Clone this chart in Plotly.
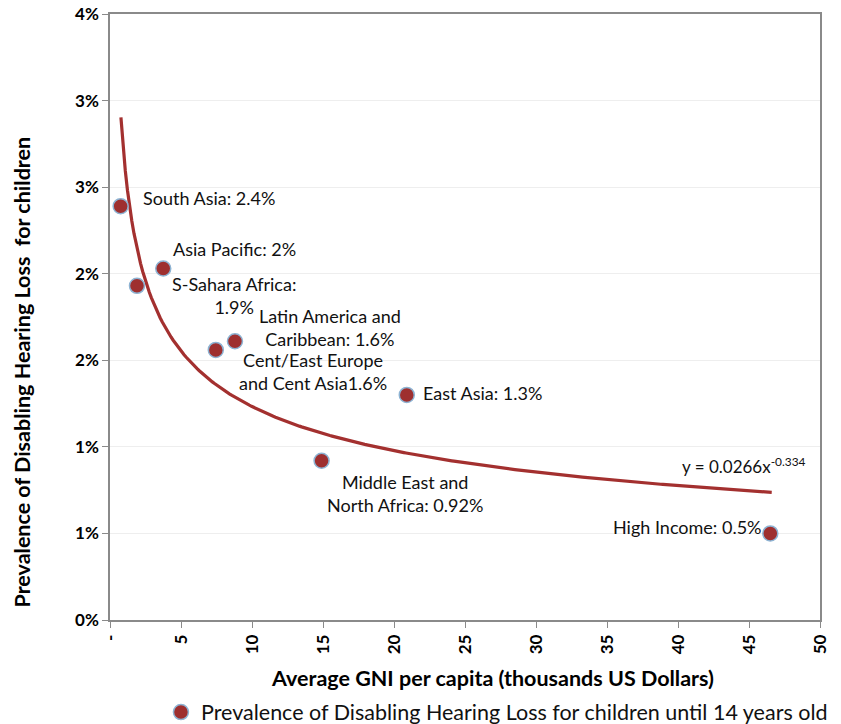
import numpy as np
import plotly.graph_objects as go

# ---- data ----
regions = ["South Asia", "Asia Pacific", "S-Sahara Africa", "Cent/East Europe and Cent Asia",
           "Latin America and Caribbean", "East Asia", "Middle East and North Africa", "High Income"]
gni = [0.75, 3.75, 1.9, 7.45, 8.8, 20.9, 14.9, 46.5]          # thousands US$
prevalence = [2.39, 2.03, 1.93, 1.56, 1.61, 1.30, 0.92, 0.50]  # %
point_labels = ["South Asia: 2.4%", "Asia Pacific: 2%", "S-Sahara Africa:<br>1.9%",
                "Cent/East Europe<br>and Cent Asia1.6%", "Latin America and<br>Caribbean: 1.6%",
                "East Asia: 1.3%", "Middle East and<br>North Africa: 0.92%", "High Income: 0.5%"]
trend_a = 0.0266
trend_b = -0.334
x_ticks = [0, 5, 10, 15, 20, 25, 30, 35, 40, 45, 50]
x_ticktext = ["-", "5", "10", "15", "20", "25", "30", "35", "40", "45", "50"]
y_ticks = [0, 0.5, 1.0, 1.5, 2.0, 2.5, 3.0, 3.5]
y_ticktext = ["0%", "1%", "1%", "2%", "2%", "3%", "3%", "4%"]

# label offsets (style)
label_style = [
    dict(xanchor="left", xshift=20, yshift=8),
    dict(xanchor="left", xshift=8, yshift=20),
    dict(xanchor="center", xshift=97, yshift=-10),
    dict(xanchor="center", xshift=97, yshift=-22),
    dict(xanchor="center", xshift=95, yshift=14),
    dict(xanchor="left", xshift=14, yshift=2),
    dict(xanchor="center", xshift=83, yshift=-33),
    dict(xanchor="right", xshift=-6, yshift=6),
]

FONT = "Lato, 'Open Sans', sans-serif"
RED = "#9E2F2F"

xs = np.linspace(min(gni) + 0.02, max(gni) + 0.1, 300)
ys = trend_a * xs ** trend_b * 100

fig = go.Figure()
fig.add_trace(go.Scatter(
    x=xs, y=ys, mode="lines", line=dict(color="#A3302F", width=3.2),
    showlegend=False, hoverinfo="skip"))
fig.add_trace(go.Scatter(
    x=gni, y=prevalence, mode="markers",
    name="Prevalence of Disabling Hearing Loss for children until 14 years old",
    marker=dict(size=15, color=RED, line=dict(color="#8DB3D3", width=1.5))))

annotations = []
for xv, yv, t, st in zip(gni, prevalence, point_labels, label_style):
    annotations.append(dict(x=xv, y=yv, xref="x", yref="y", text=t, showarrow=False,
                            font=dict(family=FONT, size=18, color="#111"),
                            align="center", yanchor="middle", **st))
# trendline equation
annotations.append(dict(x=xs[-1], y=ys[-1], xref="x", yref="y",
                        text=f"y = {trend_a}x<sup>{trend_b}</sup>", showarrow=False,
                        font=dict(family=FONT, size=17, color="#111"),
                        xanchor="right", yanchor="middle", xshift=36, yshift=27))
# axis titles
annotations.append(dict(x=-0.124, y=0.41, xref="paper", yref="paper",
                        text="Prevalence of Disabling Hearing Loss  for children",
                        textangle=-90, showarrow=False,
                        font=dict(family=FONT, size=21.5, color="#000", weight="bold"),
                        xanchor="center", yanchor="middle"))
annotations.append(dict(x=0.539, y=-0.096, xref="paper", yref="paper",
                        text="Average GNI per capita (thousands US Dollars)",
                        showarrow=False,
                        font=dict(family=FONT, size=21.5, color="#000", weight="bold"),
                        xanchor="center", yanchor="middle"))

fig.update_layout(
    width=841, height=724,
    margin=dict(l=110, r=21, t=14, b=104, autoexpand=False),
    paper_bgcolor="white", plot_bgcolor="white",
    font=dict(family=FONT, color="#000"),
    annotations=annotations,
    legend=dict(orientation="h", x=0.545, y=-0.152, xanchor="center", yanchor="middle",
                font=dict(family=FONT, size=21.5, color="#111"), itemwidth=30),
    xaxis=dict(range=[0, 50], tickvals=x_ticks, ticktext=x_ticktext, tickangle=-90,
               automargin=False,
               showgrid=False, zeroline=False, showline=True, linecolor="#8a8a8a", linewidth=1.5,
               mirror=True, ticks="outside", ticklen=6, tickcolor="#8a8a8a",
               tickfont=dict(family=FONT, size=17, color="#000", weight="bold")),
    yaxis=dict(range=[0, 3.5], tickvals=y_ticks, ticktext=y_ticktext, automargin=False,
               showgrid=True, gridcolor="#EEEEEE", gridwidth=1, zeroline=False,
               showline=True, linecolor="#8a8a8a", linewidth=1.5, mirror=True,
               ticks="outside", ticklen=6, tickcolor="#8a8a8a",
               tickfont=dict(family=FONT, size=17, color="#000", weight="bold")),
)

fig.write_html("out.html", config={"displayModeBar": False},
               post_script="document.body.style.margin='0';")
